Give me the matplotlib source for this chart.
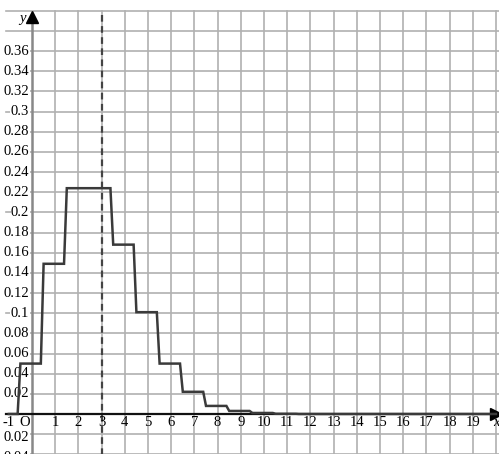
import matplotlib
matplotlib.use("Agg")
import matplotlib.pyplot as plt
import numpy as np

# Data: probability values for k = 0..19
k_values = list(range(0, 20))
probs = [0.050, 0.149, 0.224, 0.224, 0.168, 0.101, 0.050, 0.022, 0.008, 0.003,
         0.001, 0.0002, 0.0, 0.0, 0.0, 0.0, 0.0, 0.0, 0.0, 0.0]
mean_x = 3
x_tick_labels = [str(i) for i in range(1, 20)]
y_ticks = [round(0.02 * i, 2) for i in range(1, 19)]
y_tick_labels = ["0.02", "0.04", "0.06", "0.08", "0.1", "0.12", "0.14", "0.16", "0.18",
                 "0.2", "0.22", "0.24", "0.26", "0.28", "0.3", "0.32", "0.34", "0.36"]
neg_y_ticks = [-0.02, -0.04]
neg_y_labels = ["0.02", "0.04"]

plt.rcParams['font.family'] = ['Liberation Serif', 'DejaVu Serif']

fig = plt.figure(figsize=(4.99, 4.54), dpi=100)
ax = fig.add_axes([0, 0, 1, 1])
ax.set_xlim(-1.38, 20.13)
ax.set_ylim(-0.0397, 0.4107)
ax.axis('off')

grid_c = '#b0b0b0'
# vertical grid lines
for gx in range(1, 21):
    ax.plot([gx, gx], [-0.05, 0.40], color=grid_c, lw=1.2, zorder=1)
# horizontal grid lines
for gy in np.arange(-0.04, 0.401, 0.02):
    ax.plot([-1.1, 20.2], [gy, gy], color=grid_c, lw=1.2, zorder=1)

fs = 10.5
bb = dict(facecolor='white', edgecolor='none', pad=0.3)
for yv, lab in zip(y_ticks, y_tick_labels):
    ax.text(-0.12, yv, lab, ha='right', va='center', fontsize=fs, zorder=2, bbox=bb)
for yv, lab in zip(neg_y_ticks, neg_y_labels):
    ax.text(-0.12, yv - 0.003, lab, ha='right', va='center', fontsize=fs, zorder=2, bbox=bb)

# y axis
ax.plot([0, 0], [-0.05, 0.392], color='#888888', lw=1.8, zorder=3)
ax.plot([0], [0.394], marker='^', ms=8, color='black', zorder=4, clip_on=False)
# x axis
ax.plot([-1.1, 19.95], [0, 0], color='#111111', lw=1.6, zorder=3)
ax.plot([20.0], [0], marker='>', ms=8, color='black', zorder=4, clip_on=False)

# dashed mean line
ax.plot([mean_x, mean_x], [-0.05, 0.40], color='#444444', lw=1.6,
        linestyle=(0, (3, 2)), zorder=4)

# step polyline
xs = [-1.0]
ys = [0.0]
prev = 0.0
for k, p in zip(k_values, probs):
    xs += [k - 0.62, k - 0.5]
    ys += [prev, p]
    prev = p
xs.append(20.0)
ys.append(prev)
ax.plot(xs, ys, color='#3a3a3a', lw=1.8, zorder=5, solid_joinstyle='miter')

for i, lab in zip(range(1, 20), x_tick_labels):
    ax.text(i, -0.002, lab, ha='center', va='top', fontsize=fs, zorder=6)
ax.text(-1, -0.002, "-1", ha='center', va='top', fontsize=fs, zorder=6)
ax.text(-0.3, -0.002, "O", ha='center', va='top', fontsize=fs, zorder=6)
ax.text(20.0, -0.002, "x", ha='center', va='top', fontsize=fs, style='italic', zorder=6)
ax.text(-0.43, 0.392, "y", ha='center', va='center', fontsize=fs, style='italic', zorder=6)

fig.savefig("out.png", dpi=100)
